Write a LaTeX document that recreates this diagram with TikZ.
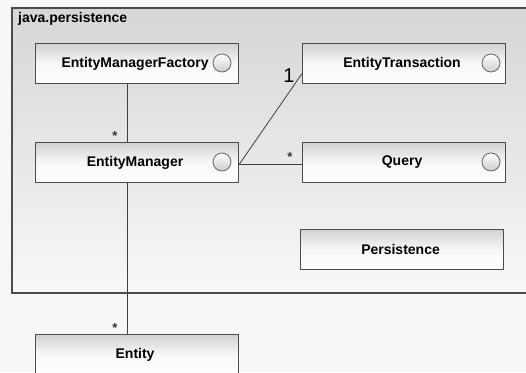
\documentclass[tikz,border=0pt]{standalone}
\usepackage{fontspec}
\setmainfont{Liberation Sans}
\usetikzlibrary{positioning}
\begin{document}
\begin{tikzpicture}[x=1pt,y=-1pt,
  classbox/.style={draw=black!70, line width=1.1pt, minimum width=203pt, minimum height=40pt,
    inner sep=0pt, top color=black!18, bottom color=white, middle color=white!97!black,
    font=\bfseries\fontsize{14}{16}\selectfont, anchor=north west},
  iface/.style={circle, draw=black!60, line width=0.8pt, minimum size=18pt, inner sep=0pt,
    top color=white, bottom color=black!20},
  link/.style={draw=black!75, line width=0.8pt},
  mult/.style={font=\bfseries\fontsize{13}{14}\selectfont, text=black!80, inner sep=1pt}]
  % canvas
  \fill[black!3] (0,0) rectangle (526,372);
  \useasboundingbox (0,0) rectangle (526,372);
  % package frame
  \shade[top color=black!16, bottom color=black!3] (12,8) rectangle (528,293);
  \draw[black!70, line width=1.1pt] (528,8) -- (12,8) -- (12,293) -- (528,293);
  \node[anchor=north west, font=\bfseries\fontsize{14}{16}\selectfont, inner sep=0pt] (pkg) at (18,12) {java.persistence};
  % classes
  \node[classbox] (emf) at (35,43) {\hspace*{-4pt}EntityManagerFactory};
  \node[classbox] (em) at (35,142) {\hspace*{-4pt}EntityManager};
  \node[classbox] (et) at (302,43) {\hspace*{-4pt}EntityTransaction};
  \node[classbox] (q) at (302,142) {\hspace*{-4pt}Query};
  \node[classbox] (p) at (300,229) {\hspace*{-3pt}Persistence};
  \node[classbox] (ent) at (35,334) {\hspace*{-4pt}Entity};
  % interface lollipops
  \node[iface] (emfc) at (222,63) {};
  \node[iface] (emc) at (222,162) {};
  \node[iface] (etc) at (491,63) {};
  \node[iface] (qc) at (491,162) {};
  % associations
  \coordinate (emr) at ([yshift=-2pt]em.east);
  \coordinate (etl) at ([yshift=-10pt]et.west);
  \draw[link] (emf.south -| 127,0) -- (em.north -| 127,0);
  \draw[link] (emr) -- (etl);
  \draw[link] (emr) -- (emr -| q.west);
  \draw[link] (em.south -| 127,0) -- (ent.north -| 127,0);
  % multiplicities
  \node[mult] (m1) at (115,136) {*};
  \node[mult] (m2) at (290,157) {*};
  \node[mult] (m3) at (115,328) {*};
  \node[font=\fontsize{20}{21}\selectfont, inner sep=0pt] (m4) at (289,76) {1};
\end{tikzpicture}
\end{document}
